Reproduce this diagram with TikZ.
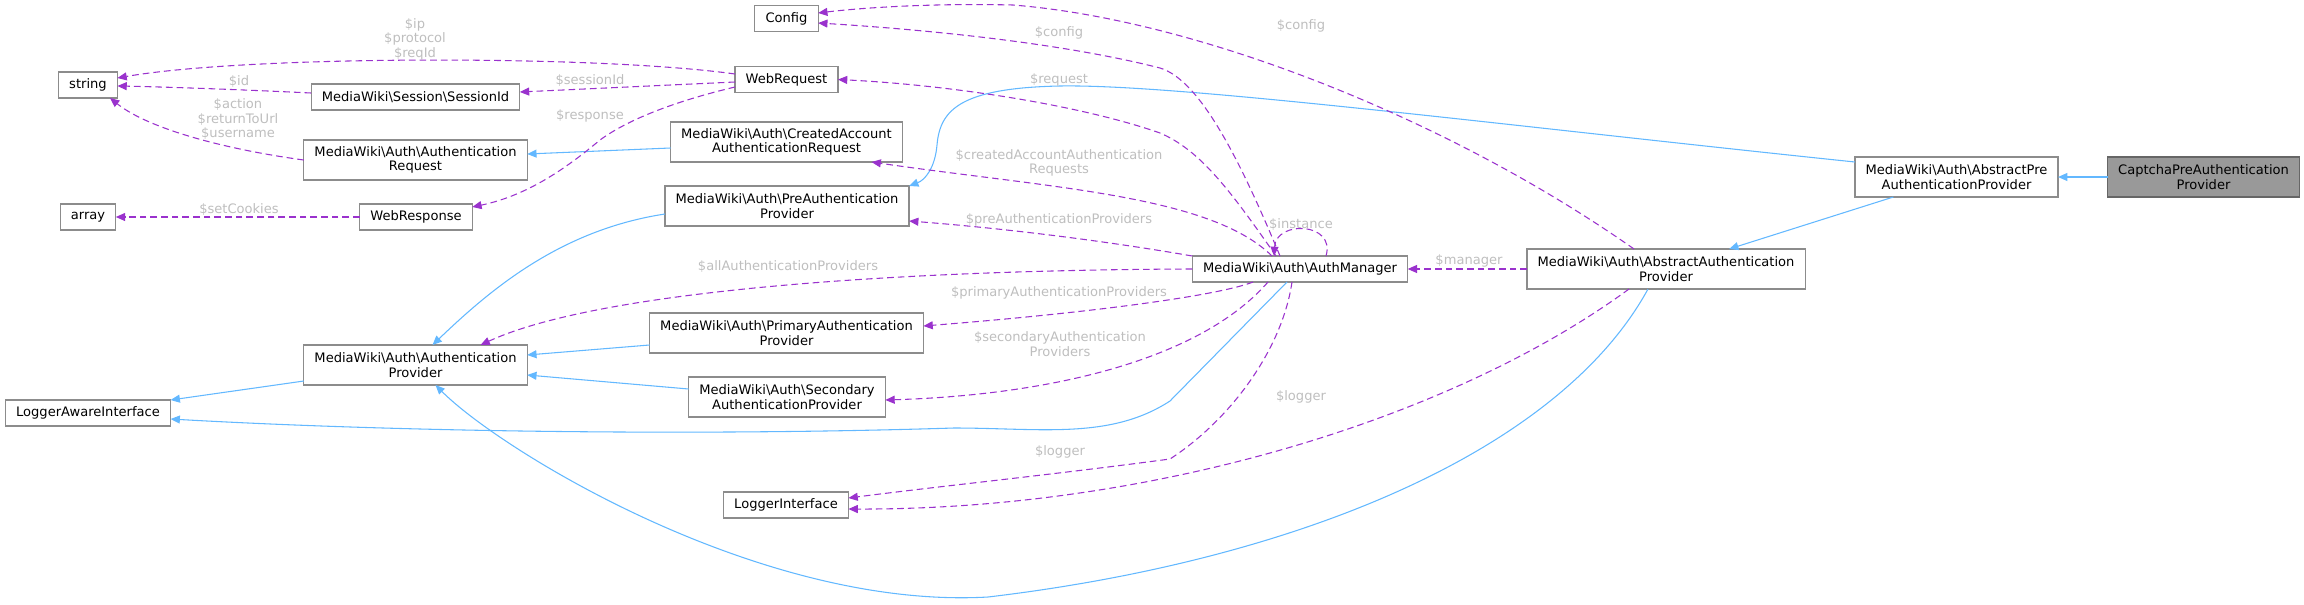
\documentclass[tikz,border=0pt]{standalone}
\usepackage{fontspec}
\setmainfont{DejaVu Sans}
\usetikzlibrary{arrows.meta,calc}

\definecolor{inhblue}{HTML}{63B8FF}
\definecolor{usepurple}{HTML}{9A32CD}
\definecolor{lblgray}{HTML}{BEBEBE}
\definecolor{boxgray}{HTML}{8C8C8C}
\definecolor{rootfill}{HTML}{999999}
\definecolor{rootline}{HTML}{666666}
\newcommand{\bsl}{\textbackslash}

\tikzset{
  cls/.style={draw=boxgray, line width=0.9pt, fill=white, inner xsep=8pt, inner ysep=2pt,
    outer sep=0pt, minimum height=19.5pt, align=center, font=\fontsize{9.8}{10.9}\selectfont},
  cls2/.style={cls, minimum height=30pt},
  inh/.style={draw=inhblue, line width=0.8pt, -{Triangle[length=7pt,width=6pt]}},
  uses/.style={draw=usepurple, line width=0.8pt, dash pattern=on 5pt off 3pt,
    -{Triangle[length=7pt,width=6pt]}},
  lbl/.style={text=lblgray, inner sep=0pt, align=center, font=\fontsize{9.8}{10.9}\selectfont},
}

\begin{document}
\begin{tikzpicture}[x=0.75pt, y=-0.75pt]
    \useasboundingbox (0,0) rectangle (2304,604);

    % classes
    \node[cls] (string) at (88,85) {string};
    \node[cls] (array) at (88,217) {array};
    \node[cls] (lai) at (88,413) {LoggerAwareInterface};

    \node[cls] (sessid) at (415.5,97) {MediaWiki\bsl Session\bsl SessionId};
    \node[cls2] (authreq) at (415.5,160) {MediaWiki\bsl Auth\bsl Authentication\\Request};
    \node[cls] (webresp) at (416,217) {WebResponse};
    \node[cls2] (authprov) at (415.5,365) {MediaWiki\bsl Auth\bsl Authentication\\Provider};

    \node[cls] (config) at (786.5,18.5) {Config};
    \node[cls] (webreq) at (786.5,79.5) {WebRequest};
    \node[cls2] (created) at (786.5,142) {MediaWiki\bsl Auth\bsl CreatedAccount\\AuthenticationRequest};
    \node[cls2] (preauth) at (787,206) {MediaWiki\bsl Auth\bsl PreAuthentication\\Provider};
    \node[cls2] (primary) at (786.5,333) {MediaWiki\bsl Auth\bsl PrimaryAuthentication\\Provider};
    \node[cls2] (secondary) at (787,397) {MediaWiki\bsl Auth\bsl Secondary\\AuthenticationProvider};
    \node[cls] (loggerif) at (786,505) {LoggerInterface};

    \node[cls] (authmgr) at (1300,269) {MediaWiki\bsl Auth\bsl AuthManager};
    \node[cls2] (absauth) at (1666,269) {MediaWiki\bsl Auth\bsl AbstractAuthentication\\Provider};
    \node[cls2] (abspre) at (1956.5,177) {MediaWiki\bsl Auth\bsl AbstractPre\\AuthenticationProvider};
    \node[cls2, fill=rootfill, draw=rootline] (captcha) at (2203.5,177) {CaptchaPreAuthentication\\Provider};

    % inheritance
    \draw[inh] (captcha) -- (abspre);
    \draw[inh] (abspre) -- (absauth);
    \draw[inh] ($(abspre.north west)+(0,5)$) .. controls (1500,125) and (1180,84) .. (1060,86)
        .. controls (960,88) and (940,110) .. (937,145) .. controls (935,168) and (925,180) .. (preauth.north east);
    \draw[inh] ($(absauth.south)+(-18,0)$) .. controls (1560,450) and (1300,560) .. (988,597)
        .. controls (760,610) and (500,450) .. ($(authprov.south)+(20,0)$);
    \draw[inh] ($(authmgr.south)+(-13,0)$) -- (1170,401) .. controls (1110,440) and (1040,428) .. (954,428)
        .. controls (700,436) and (400,432) .. ($(lai.east)+(0,6)$);
    \draw[inh] ($(authprov.south west)+(0,-4)$) -- (lai.north east);
    \draw[inh] ($(preauth.west)+(0,8)$) .. controls (560,230) and (490,290) .. ($(authprov.north)+(17,0)$);
    \draw[inh] ($(primary.south west)+(0,-8)$) -- ($(authprov.east)+(0,-10)$);
    \draw[inh] ($(secondary.west)+(0,-8)$) -- ($(authprov.east)+(0,10)$);
    \draw[inh] ($(created.west)+(0,6)$) -- ($(authreq.east)+(0,-6)$);

    % members
    \draw[uses] ($(webreq.west)+(0,-5.5)$) .. controls (600,55) and (250,55) .. ($(string.east)+(0,-7)$);
    \draw[uses] ($(sessid.west)+(0,-4)$) .. controls (250,90) and (170,87) .. ($(string.east)+(0,1)$);
    \draw[uses] (authreq.west) .. controls (230,150) and (150,130) .. ($(string.south)+(22,0)$);
    \draw[uses] (webresp) -- (array);
    \draw[uses] ($(webreq.west)+(0,2.5)$) -- ($(sessid.east)+(0,-5)$);
    \draw[uses] ($(webreq.west)+(0,7.5)$) .. controls (680,100) and (630,118) .. (600,140)
        .. controls (570,165) and (530,195) .. ($(webresp.east)+(0,-10)$);

    \draw[uses] ($(authmgr.north)+(-20,0)$) .. controls (1240,160) and (1200,80) .. (1160,68)
        .. controls (1050,40) and (900,28) .. ($(config.east)+(0,4.5)$);
    \draw[uses] ($(absauth.north)+(-32,0)$) .. controls (1450,120) and (1200,20) .. (1013,5)
        .. controls (930,3) and (860,8) .. ($(config.east)+(0,-5.5)$);
    \draw[uses] ($(authmgr.north)+(-24,0)$) .. controls (1230,190) and (1200,150) .. (1160,133)
        .. controls (1080,105) and (950,85) .. (webreq.east);
    \draw[uses] ($(authmgr.north)+(-28,0)$) .. controls (1210,195) and (1050,188) .. ($(created.south)+(85,0)$);
    \draw[uses] (authmgr.north west) .. controls (1100,240) and (1000,228) .. ($(preauth.east)+(0,15)$);
    \draw[uses] ($(authmgr.north)+(26,0)$) .. controls (1336,222) and (1276,220) .. ($(authmgr.north)+(-26,0)$);
    \draw[uses] (authmgr.west) .. controls (900,270) and (600,290) .. ($(authprov.north)+(65,0)$);
    \draw[uses] ($(authmgr.south)+(-47,0)$) .. controls (1220,295) and (1100,312) .. ($(primary.east)+(0,-7)$);
    \draw[uses] ($(authmgr.south)+(-32,0)$) .. controls (1200,360) and (1050,395) .. ($(secondary.east)+(0,3)$);
    \draw[uses] ($(authmgr.south)+(-8,0)$) .. controls (1282,350) and (1230,420) .. (1170,459)
        .. controls (1050,475) and (950,485) .. ($(loggerif.east)+(0,-7)$);
    \draw[uses] ($(absauth.south)+(-37,0)$) .. controls (1450,420) and (1150,510) .. ($(loggerif.east)+(0,4)$);
    \draw[uses] (absauth) -- (authmgr);

    % labels
    \node[lbl] (lip) at (415,39) {\$ip\\\$protocol\\\$reqId};
    \node[lbl] (lid) at (239,81) {\$id};
    \node[lbl] (laction) at (238,119) {\$action\\\$returnToUrl\\\$username};
    \node[lbl] (lcookies) at (239,209) {\$setCookies};
    \node[lbl] (lsessid) at (590,80) {\$sessionId};
    \node[lbl] (lresp) at (590,116) {\$response};
    \node[lbl] (lconfiga) at (1059,33) {\$config};
    \node[lbl] (lconfigb) at (1301,26) {\$config};
    \node[lbl] (lrequest) at (1059,80) {\$request};
    \node[lbl] (lcreated) at (1059,163) {\$createdAccountAuthentication\\Requests};
    \node[lbl] (lpre) at (1059,220) {\$preAuthenticationProviders};
    \node[lbl] (linstance) at (1301,224) {\$instance};
    \node[lbl] (lall) at (788,266) {\$allAuthenticationProviders};
    \node[lbl] (lprimary) at (1059,293) {\$primaryAuthenticationProviders};
    \node[lbl] (lsecondary) at (1060,344) {\$secondaryAuthentication\\Providers};
    \node[lbl] (lloggera) at (1060,452) {\$logger};
    \node[lbl] (lloggerb) at (1301,397) {\$logger};
    \node[lbl] (lmanager) at (1469,261) {\$manager};

\end{tikzpicture}
\end{document}
